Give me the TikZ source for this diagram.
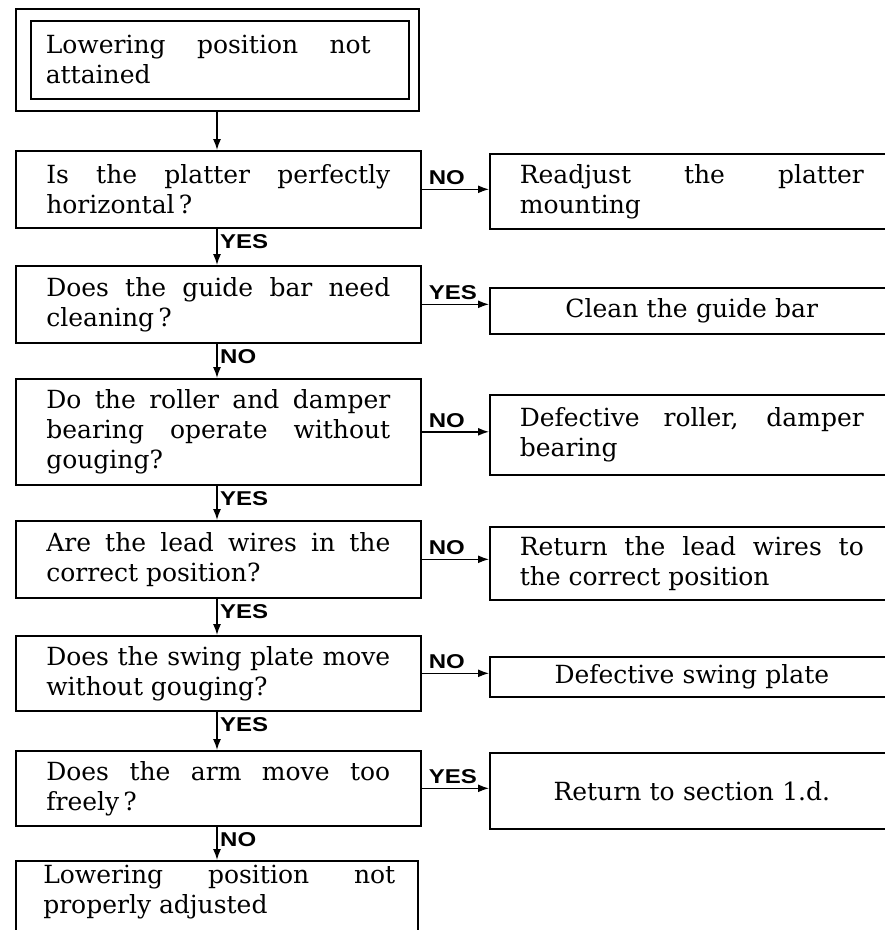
\documentclass[tikz,border=0pt]{standalone}
\usepackage{fontspec}
\setmainfont{DejaVu Serif}
\newfontfamily\lblfont[FakeStretch=1.2]{Liberation Sans}
\usetikzlibrary{arrows.meta,calc}
\begin{document}
\begin{tikzpicture}[x=1pt,y=-1pt,
  bodyfont/.style={font=\fontsize{25}{30}\selectfont},
  frame/.style={draw, line width=1.6pt, anchor=north west, inner sep=0pt},
  qbox/.style={frame, bodyfont, minimum width=405pt, text width=344pt, align=justify},
  abox/.style={qbox, minimum width=404pt},
  cbox/.style={abox, align=center},
  arr/.style={line width=1.4pt, -{Latex[length=11pt,width=8pt]}},
  lbl/.style={inner sep=0pt, font=\lblfont\bfseries\fontsize{20}{20}\selectfont},
]
\useasboundingbox (0,0) rectangle (885,930);
\clip (0,0) rectangle (885,930);
\coordinate (ax) at (217,0);

% start box (double frame)
\node[frame, minimum width=403pt, minimum height=102pt] (b0o) at (15,8) {};
\node[frame, bodyfont, minimum width=378pt, minimum height=78pt] (b0) at (30,20)
  {\parbox{325pt}{Lowering position not\linebreak attained}\hspace*{23pt}};

% question boxes
\node[qbox, minimum height=77pt] (b2) at (15,150) {Is the platter perfectly\linebreak horizontal\,?};
\node[qbox, minimum height=77pt] (b3) at (15,265) {Does the guide bar need\linebreak cleaning\,?};
\node[qbox, minimum height=106pt] (b4) at (15,378) {Do the roller and damper\linebreak bearing operate without\linebreak gouging?};
\node[qbox, minimum height=77pt] (b5) at (15,520) {Are the lead wires in the\linebreak correct position?};
\node[qbox, minimum height=75pt] (b6) at (15,635) {Does the swing plate move\linebreak without gouging?};
\node[qbox, minimum height=75pt] (b7) at (15,750) {Does the arm move too\linebreak freely\,?};
\node[frame, bodyfont, minimum width=402pt, inner ysep=4pt] (b8) at (15,860)
  {\hspace*{5pt}\parbox[t][120pt][t]{352pt}{Lowering position not\linebreak properly adjusted}};

% result boxes
\node[abox, minimum height=75pt] (r1) at (489,153) {Readjust the platter\linebreak mounting};
\node[cbox, minimum height=46pt] (r2) at (489,287) {Clean the guide bar};
\node[abox, minimum height=80pt] (r3) at (489,394) {Defective roller, damper\linebreak bearing};
\node[abox, minimum height=73pt] (r4) at (489,526) {Return the lead wires to\linebreak the correct position};
\node[cbox, minimum height=40pt] (r5) at (489,656) {Defective swing plate};
\node[cbox, minimum height=76pt] (r6) at (489,752) {Return to section 1.d.};

% vertical connectors
\draw[arr] (b0o.south -| ax) -- (b2.north -| ax);
\draw[arr] (b2.south -| ax) -- (b3.north -| ax);
\draw[arr] (b3.south -| ax) -- (b4.north -| ax);
\draw[arr] (b4.south -| ax) -- (b5.north -| ax);
\draw[arr] (b5.south -| ax) -- (b6.north -| ax);
\draw[arr] (b6.south -| ax) -- (b7.north -| ax);
\draw[arr] (b7.south -| ax) -- (b8.north -| ax);

\node[lbl, anchor=north west] (v2) at ($(b2.south -| ax)+(3,6)$) {YES};
\node[lbl, anchor=north west] (v3) at ($(b3.south -| ax)+(3,6)$) {NO};
\node[lbl, anchor=north west] (v4) at ($(b4.south -| ax)+(3,6)$) {YES};
\node[lbl, anchor=north west] (v5) at ($(b5.south -| ax)+(3,6)$) {YES};
\node[lbl, anchor=north west] (v6) at ($(b6.south -| ax)+(3,6)$) {YES};
\node[lbl, anchor=north west] (v7) at ($(b7.south -| ax)+(3,6)$) {NO};

% horizontal connectors
\draw[arr] (b2.east) -- (b2.east -| r1.west);
\draw[arr] (b3.east) -- (b3.east -| r2.west);
\draw[arr] (b4.east) -- (b4.east -| r3.west);
\draw[arr] (b5.east) -- (b5.east -| r4.west);
\draw[arr] (b6.east) -- (b6.east -| r5.west);
\draw[arr] (b7.east) -- (b7.east -| r6.west);

\node[lbl, anchor=south west] (h2) at ($(b2.east)+(7,-4)$) {NO};
\node[lbl, anchor=south west] (h3) at ($(b3.east)+(7,-4)$) {YES};
\node[lbl, anchor=south west] (h4) at ($(b4.east)+(7,-4)$) {NO};
\node[lbl, anchor=south west] (h5) at ($(b5.east)+(7,-4)$) {NO};
\node[lbl, anchor=south west] (h6) at ($(b6.east)+(7,-4)$) {NO};
\node[lbl, anchor=south west] (h7) at ($(b7.east)+(7,-4)$) {YES};
\end{tikzpicture}
\end{document}
